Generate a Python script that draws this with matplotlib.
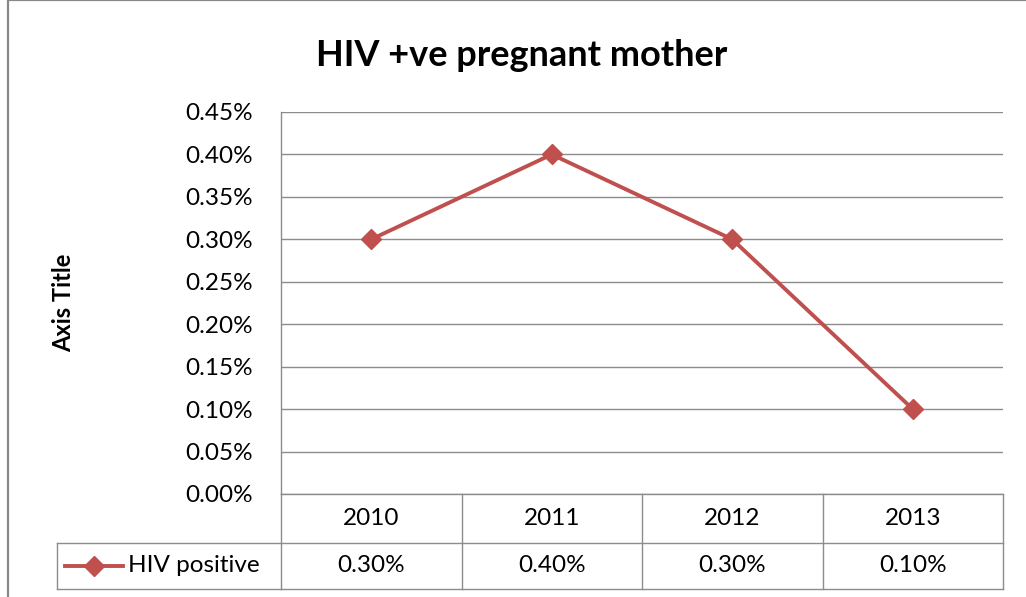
import matplotlib
matplotlib.use("Agg")
import matplotlib.pyplot as plt
from matplotlib.transforms import blended_transform_factory
from matplotlib.lines import Line2D
from matplotlib.patches import Rectangle

categories = ["2010", "2011", "2012", "2013"]
values = [0.30, 0.40, 0.30, 0.10]
value_labels = ["0.30%", "0.40%", "0.30%", "0.10%"]
yticks = [0.00, 0.05, 0.10, 0.15, 0.20, 0.25, 0.30, 0.35, 0.40, 0.45]
series_name = "HIV positive"
title = "HIV +ve pregnant mother"
ylabel = "Axis Title"

FONT = ["Lato", "DejaVu Sans"]
plt.rcParams["font.family"] = FONT

W, H = 1026, 597
fig = plt.figure(figsize=(W / 100, H / 100), dpi=100)

def fx(px):
    return px / W

def fy(py):
    return 1 - py / H

# outer chart border
fig.patches.append(Rectangle((fx(8), fy(700)), fx(1100), 700 / H, transform=fig.transFigure,
                             fill=False, edgecolor="#898989", linewidth=1.6))

left, right, top, bottom = 281, 1003, 112, 494
ax = fig.add_axes([fx(left), fy(bottom), fx(right - left), (bottom - top) / H])

color = "#C0504D"
grid_c = "#8C8C8C"
FS = 17.5
x = list(range(len(categories)))
ax.plot(x, values, color=color, linewidth=2.8, marker="D", markersize=10,
        markerfacecolor=color, markeredgecolor=color, zorder=3)

ax.set_xlim(-0.5, len(categories) - 0.5)
ax.set_ylim(0, 0.45)
ax.set_yticks(yticks)
ax.set_yticklabels([f"{t:.2f}%" for t in yticks])
ax.set_xticks([])
ax.tick_params(axis="y", length=0, pad=20, labelsize=FS, labelcolor="#000000")
for t in yticks:
    ax.axhline(t, color=grid_c, linewidth=1.0, zorder=1)
for s in ["top", "right", "bottom"]:
    ax.spines[s].set_visible(False)
ax.spines["left"].set_color(grid_c)
ax.spines["left"].set_linewidth(1.0)

fig.text(fx(522), fy(56), title, ha="center", va="center", fontsize=26, fontweight="bold")
fig.text(fx(64), fy(303), ylabel, ha="center", va="center", rotation=90, fontsize=17, fontweight="bold")

# data table below axis
tr = blended_transform_factory(ax.transData, ax.transAxes)
ph = bottom - top
r0 = 0.0
r1 = -(543 - bottom) / ph
r2 = -(589 - bottom) / ph
n = len(categories)
lk = dict(color=grid_c, linewidth=1.0, clip_on=False)
ax.add_line(Line2D([-0.5, n - 0.5], [r0, r0], transform=tr, **lk))
ax.add_line(Line2D([-0.5, n - 0.5], [r1, r1], transform=tr, **lk))
ax.add_line(Line2D([-0.5, n - 0.5], [r2, r2], transform=tr, **lk))
for i in range(n + 1):
    ax.add_line(Line2D([i - 0.5, i - 0.5], [r0, r2], transform=tr, **lk))
for i, (c, v) in enumerate(zip(categories, value_labels)):
    ax.text(i, (r0 + r1) / 2, c, transform=tr, ha="center", va="center", fontsize=FS)
    ax.text(i, (r1 + r2) / 2, v, transform=tr, ha="center", va="center", fontsize=FS)

# legend cell (figure coordinates)
fk = dict(color=grid_c, linewidth=1.0, transform=fig.transFigure)
fig.lines.append(Line2D([fx(57), fx(left)], [fy(543), fy(543)], **fk))
fig.lines.append(Line2D([fx(57), fx(left)], [fy(589), fy(589)], **fk))
fig.lines.append(Line2D([fx(57), fx(57)], [fy(543), fy(589)], **fk))
fig.lines.append(Line2D([fx(65), fx(123)], [fy(566), fy(566)], color=color, linewidth=2.8,
                        transform=fig.transFigure))
fig.lines.append(Line2D([fx(94)], [fy(566)], color=color, marker="D", markersize=10,
                        linestyle="none", transform=fig.transFigure))
fig.text(fx(128), fy(566), series_name, ha="left", va="center", fontsize=FS)

fig.savefig("out.png", dpi=100)
